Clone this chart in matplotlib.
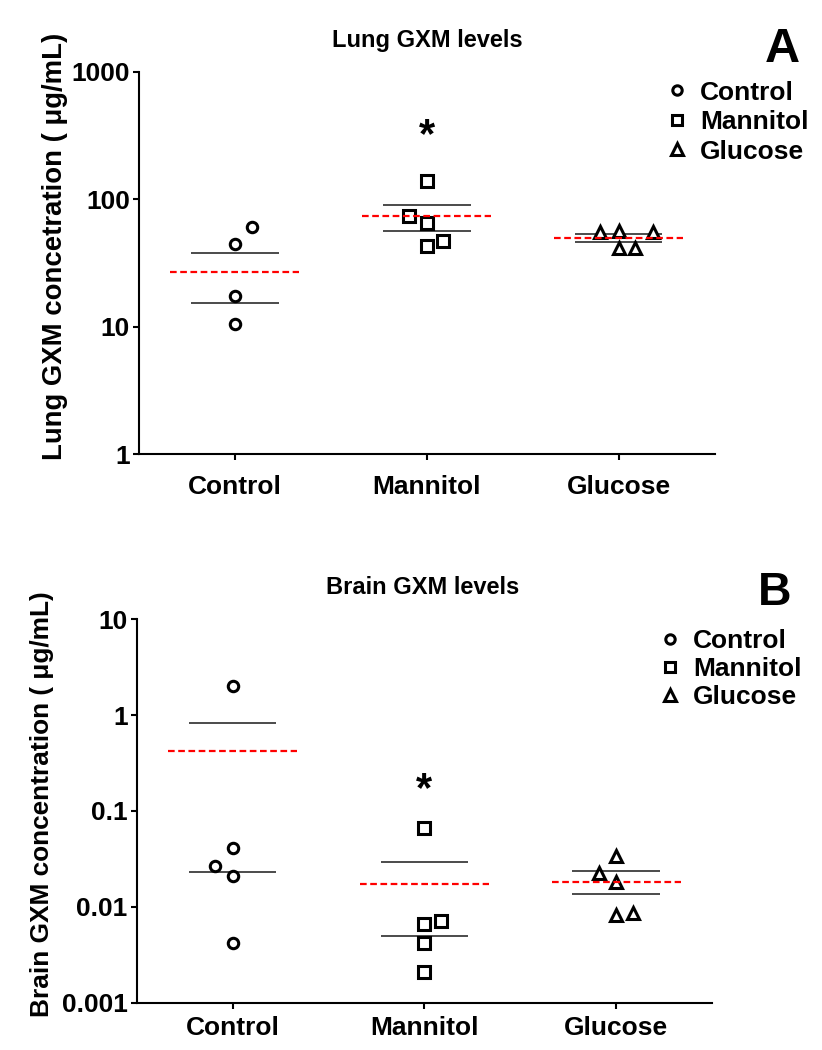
import matplotlib
matplotlib.use("Agg")
import matplotlib.pyplot as plt
from matplotlib.lines import Line2D
from matplotlib.ticker import FixedLocator, FixedFormatter, NullLocator

plt.rcParams['font.family'] = ['Liberation Sans', 'DejaVu Sans']
plt.rcParams['font.weight'] = 'bold'

# ---------------- data ----------------
categories = ['Control', 'Mannitol', 'Glucose']

lung_control = [61.0, 44.6, 17.3, 10.5]
lung_mannitol = [140.0, 74.4, 65.2, 47.1, 43.3]
lung_glucose = [55.1, 56.7, 55.7, 41.3, 41.3]
lung_sem_hi = [37.7, 90.8, 53.4]
lung_sem_lo = [15.3, 56.7, 46.2]
lung_mean = [26.8, 74.4, 50.0]
lung_star = 360.0
lung_ticks = [1, 10, 100, 1000]
lung_ticklabels = ['1', '10', '100', '1000']

brain_control = [2.01, 0.0408, 0.0267, 0.0210, 0.00417]
brain_mannitol = [0.0658, 0.0071, 0.0066, 0.0042, 0.0021]
brain_glucose = [0.034, 0.0223, 0.018, 0.0083, 0.0087]
brain_sem_hi = [0.822, 0.0295, 0.0236]
brain_sem_lo = [0.0229, 0.0050, 0.0135]
brain_mean = [0.423, 0.0175, 0.0182]
brain_star = 0.197
brain_ticks = [0.001, 0.01, 0.1, 1, 10]
brain_ticklabels = ['0.001', '0.01', '0.1', '1', '10']

# horizontal scatter offsets (category units)
lung_jitter = [[0.089, 0, 0, 0],
               [0, -0.091, 0, 0.086, 0],
               [-0.097, 0, 0.181, 0, 0.086]]
brain_jitter = [[0, 0, -0.091, 0, 0],
                [0, 0.089, 0, 0, 0],
                [0, -0.091, 0, 0, 0.089]]

markers = ['o', 's', '^']
msizes = [7.5, 8.2, 8.8]

W, H = 822, 1050
fig = plt.figure(figsize=(W / 100, H / 100), dpi=100)


def rect(l, r, t, b):
    return [l / W, 1 - b / H, (r - l) / W, (b - t) / H]


ax1 = fig.add_axes(rect(138.9, 714.6, 71.7, 454.3))
ax2 = fig.add_axes(rect(136.7, 712.0, 619.3, 1002.7))


def draw(ax, groups, jitter, hi, lo, mean, star, ticks, ticklabels,
         ylim, ylabel, ylab_fs, ylab_xy, xpad):
    for i, (vals, jit) in enumerate(zip(groups, jitter)):
        xs = [i + j for j in jit]
        ax.plot(xs, vals, linestyle='none', marker=markers[i],
                markersize=msizes[i], markerfacecolor='white',
                markeredgecolor='black', markeredgewidth=2.2, zorder=4)
    cx = list(range(len(categories)))
    ax.hlines(hi, [c - 0.228 for c in cx], [c + 0.228 for c in cx],
              colors='#1a1a1a', linewidth=1.1, zorder=3)
    ax.hlines(lo, [c - 0.228 for c in cx], [c + 0.228 for c in cx],
              colors='#1a1a1a', linewidth=1.1, zorder=3)
    ax.hlines(mean, [c - 0.336 for c in cx], [c + 0.336 for c in cx],
              colors='#ff0000', linewidth=1.6, linestyles=(0, (3, 1.6)),
              zorder=5)
    ax.annotate('*', xy=(1, star), xytext=(0, -5.5), textcoords='offset points',
                ha='center', va='center', fontsize=30, fontweight='bold')

    ax.set_yscale('log')
    ax.set_ylim(*ylim)
    ax.set_xlim(-0.5, 2.5)
    ax.yaxis.set_major_locator(FixedLocator(ticks))
    ax.yaxis.set_major_formatter(FixedFormatter(ticklabels))
    ax.yaxis.set_minor_locator(NullLocator())
    ax.set_xticks(cx)
    ax.set_xticklabels(categories)
    for s in ['top', 'right']:
        ax.spines[s].set_visible(False)
    for s in ['left', 'bottom']:
        ax.spines[s].set_linewidth(1.5)
    ax.tick_params(axis='y', length=4.5, width=1.5, pad=2, labelsize=19)
    ax.tick_params(axis='x', length=4.0, width=1.5, pad=xpad, labelsize=19)
    for lab in ax.get_xticklabels() + ax.get_yticklabels():
        lab.set_fontweight('bold')
    ax.set_ylabel(ylabel, fontsize=ylab_fs, fontweight='bold')
    ax.yaxis.label.set_va('baseline')
    ax.yaxis.set_label_coords(*ylab_xy)


draw(ax1, [lung_control, lung_mannitol, lung_glucose], lung_jitter,
     lung_sem_hi, lung_sem_lo, lung_mean, lung_star, lung_ticks,
     lung_ticklabels, (1, 1000), 'Lung GXM concetration ( μg/mL)', 19.8,
     (-0.1344, 0.543), 10.8)
draw(ax2, [brain_control, brain_mannitol, brain_glucose], brain_jitter,
     brain_sem_hi, brain_sem_lo, brain_mean, brain_star, brain_ticks,
     brain_ticklabels, (0.001, 10), 'Brain GXM concentration ( μg/mL)', 18.9,
     (-0.1524, 0.518), 5.8)

# titles and panel letters
fig.text(427.5 / W, 1 - 46.5 / H, 'Lung GXM levels', ha='center',
         va='baseline', fontsize=17, fontweight='bold')
fig.text(422.5 / W, 1 - 594 / H, 'Brain GXM levels', ha='center',
         va='baseline', fontsize=17, fontweight='bold')
fig.text(782.5 / W, 1 - 62 / H, 'A', ha='center', va='baseline',
         fontsize=35, fontweight='bold')
fig.text(775 / W, 1 - 605 / H, 'B', ha='center', va='baseline',
         fontsize=33.5, fontweight='bold')

# legends
for ax, left, top, lsp in [(ax1, 663.5, 80.5, 0.21), (ax2, 656.8, 629.5, 0.15)]:
    handles = [Line2D([], [], linestyle='none', marker=markers[i],
                      markersize=msizes[i] * 0.9, markerfacecolor='white',
                      markeredgecolor='black', markeredgewidth=2.2)
               for i in range(3)]
    leg = ax.legend(handles, categories, loc='upper left',
                    bbox_to_anchor=(left / W, 1 - top / H),
                    bbox_transform=fig.transFigure, frameon=False,
                    prop={'size': 19, 'weight': 'bold'}, handlelength=1.0,
                    handletextpad=0.38, borderpad=0, borderaxespad=0,
                    labelspacing=lsp)

fig.savefig('out.png', dpi=100)
